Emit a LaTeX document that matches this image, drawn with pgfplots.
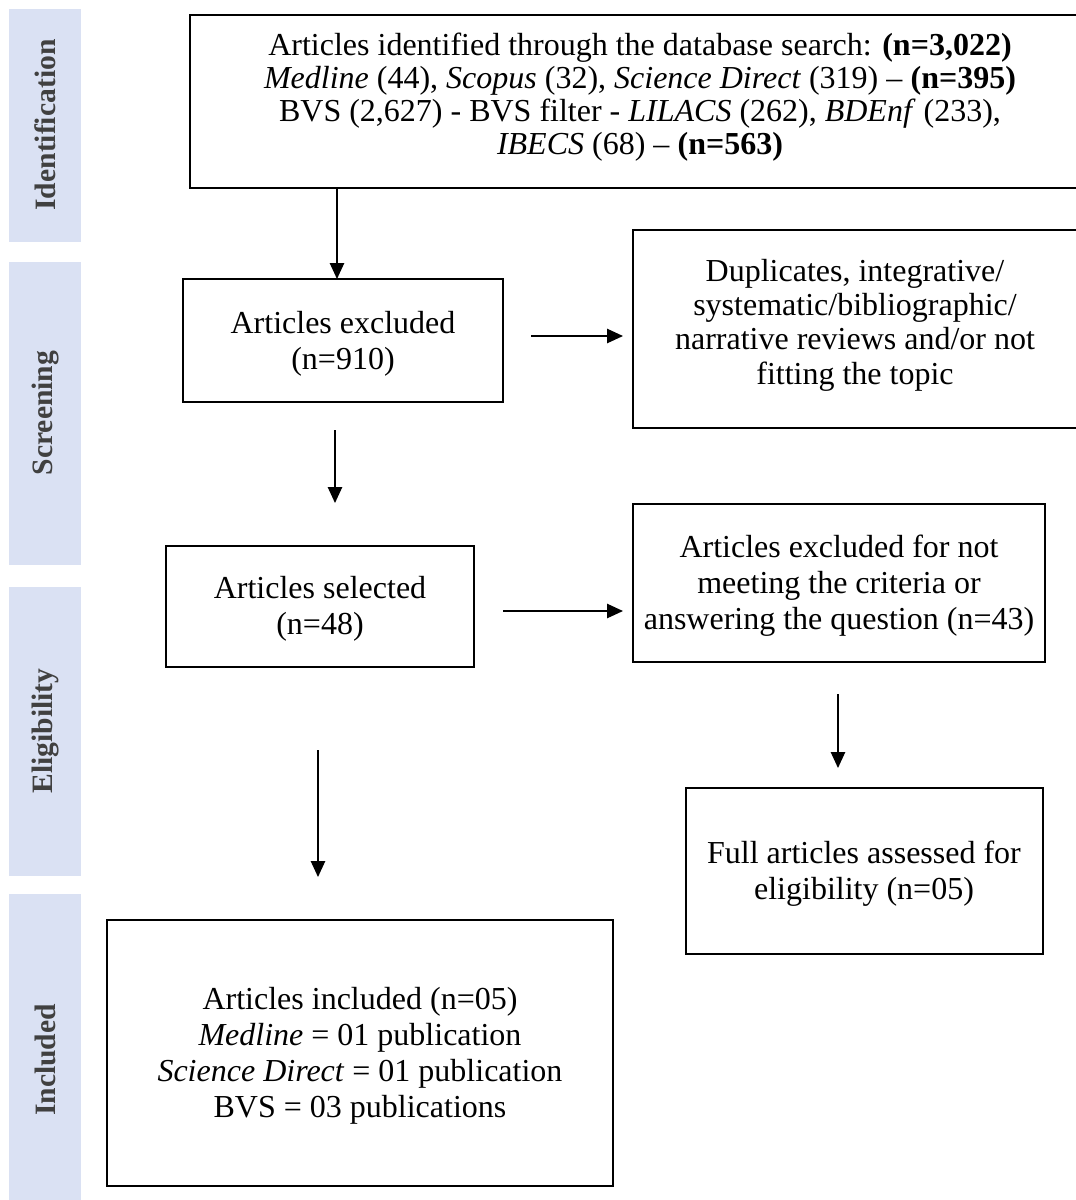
\documentclass[border=0pt]{standalone}
\usepackage{fontspec}
\setmainfont{Liberation Serif}
\usepackage{pgfplots}
\pgfplotsset{compat=1.18}
\usetikzlibrary{arrows.meta}
\definecolor{barblue}{HTML}{DAE1F3}
\definecolor{labgray}{HTML}{404040}
\tikzset{
  boxline/.style={black, line width=0.6pt},
  arr/.style={black, line width=0.35pt, -{Triangle[length=4pt,width=3.6pt]}},
  bar/.style={fill=barblue, draw=none},
  txt/.style={align=center, inner sep=0pt, font=\fontsize{8}{9}\selectfont},
  side/.style={rotate=90, inner sep=0pt, text=labgray, font=\fontsize{7.4}{8}\selectfont\bfseries},
}
\begin{document}
\begin{tikzpicture}
\begin{axis}[
  width=269pt, height=300pt, scale only axis,
  xmin=0, xmax=1076, ymin=0, ymax=1200, y dir=reverse,
  hide axis, clip=false,
]
% stage bars
\addplot[bar, no markers] coordinates {(9,9) (81,9) (81,242) (9,242)} -- cycle;
\addplot[bar, no markers] coordinates {(9,262) (81,262) (81,565) (9,565)} -- cycle;
\addplot[bar, no markers] coordinates {(9,587) (81,587) (81,876) (9,876)} -- cycle;
\addplot[bar, no markers] coordinates {(9,894) (81,894) (81,1200) (9,1200)} -- cycle;
\node[side] at (axis cs:45,125) {Identification};
\node[side] at (axis cs:45,413) {Screening};
\node[side] at (axis cs:45,731) {Eligibility};
\node[side] at (axis cs:45,1060) {Included};
% boxes
\addplot[boxline, no markers] coordinates {(190,15) (1080,15) (1080,188) (190,188)} -- cycle;
\addplot[boxline, no markers] coordinates {(183,279) (503,279) (503,402) (183,402)} -- cycle;
\addplot[boxline, no markers] coordinates {(633,230) (1080,230) (1080,428) (633,428)} -- cycle;
\addplot[boxline, no markers] coordinates {(166,546) (474,546) (474,667) (166,667)} -- cycle;
\addplot[boxline, no markers] coordinates {(633,504) (1045,504) (1045,662) (633,662)} -- cycle;
\addplot[boxline, no markers] coordinates {(686,788) (1043,788) (1043,954) (686,954)} -- cycle;
\addplot[boxline, no markers] coordinates {(107,920) (613,920) (613,1186) (107,1186)} -- cycle;
% arrows
\addplot[arr, no markers] coordinates {(337,188) (337,279)};
\addplot[arr, no markers] coordinates {(531,336) (623,336)};
\addplot[arr, no markers] coordinates {(335,430) (335,503)};
\addplot[arr, no markers] coordinates {(503,611) (623,611)};
\addplot[arr, no markers] coordinates {(838,694) (838,768)};
\addplot[arr, no markers] coordinates {(318,750) (318,877)};
% texts
\node[txt, font=\fontsize{8}{8.3}\selectfont] at (axis cs:640,97) {Articles identified through the database search: \textbf{(n=3,022)}\\
\textit{Medline} (44), \textit{Scopus} (32), \textit{Science Direct} (319) – \textbf{(n=395)}\\
BVS (2,627) - BVS filter - \textit{LILACS} (262), \textit{BDEnf} (233),\\
\textit{IBECS} (68) – \textbf{(n=563)}};
\node[txt] at (axis cs:343,344) {Articles excluded\\(n=910)};
\node[txt, font=\fontsize{8}{8.6}\selectfont] at (axis cs:855,325) {Duplicates, integrative/\\systematic/bibliographic/\\narrative reviews and/or not\\fitting the topic};
\node[txt] at (axis cs:320,609) {Articles selected\\(n=48)};
\node[txt] at (axis cs:839,586) {Articles excluded for not\\meeting the criteria or\\answering the question (n=43)};
\node[txt] at (axis cs:864,874) {Full articles assessed for\\eligibility (n=05)};
\node[txt] at (axis cs:360,1056) {Articles included (n=05)\\\textit{Medline} = 01 publication\\\textit{Science Direct} = 01 publication\\BVS = 03 publications};
\coordinate (SW) at (axis cs:0,1200);
\coordinate (NE) at (axis cs:1076,0);
\end{axis}
\pgfresetboundingbox
\useasboundingbox (SW) rectangle (NE);
\end{tikzpicture}
\end{document}
